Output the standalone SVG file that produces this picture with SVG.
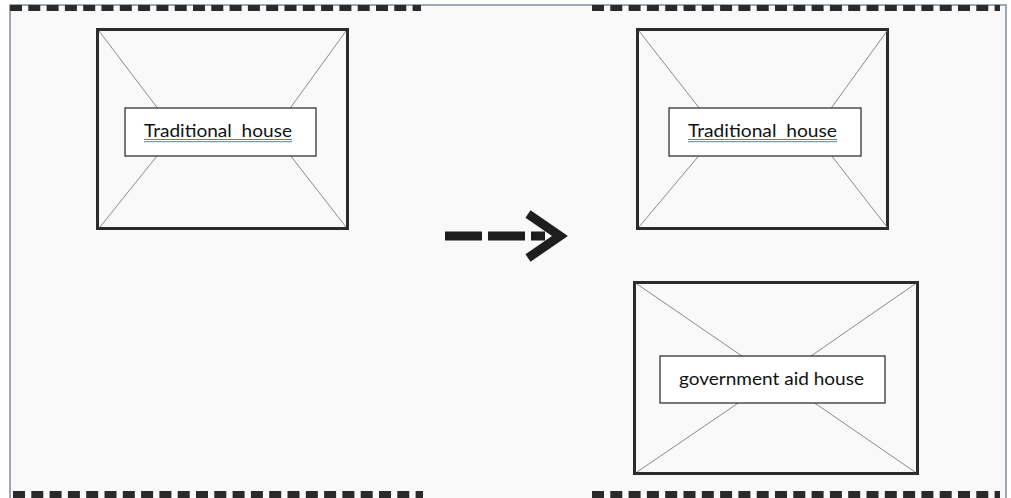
<svg xmlns="http://www.w3.org/2000/svg" width="1011" height="498" viewBox="0 0 1011 498">
<style>
.house{fill:none;stroke:#2b2b2b;stroke-width:3}
.diag{stroke:#8a8a8a;stroke-width:1}
.label{fill:#ffffff;stroke:#222;stroke-width:1.2}
.txt{font-family:Lato,"Liberation Sans",Arial,sans-serif;font-size:18px;fill:#111;white-space:pre}
.ul{stroke:#4a7fd4;stroke-width:1}
.dash{stroke:#2a2a2a;fill:none;stroke-dasharray:12 6.3}
</style>
<rect x="0" y="0" width="1011" height="498" fill="#ffffff"/>
<rect x="10" y="5" width="996" height="496" fill="#f9f9f9" stroke="#7f8c9c" stroke-width="1.5"/>
<g id="frame-dashes">
<line class="dash" x1="10" y1="8" x2="421" y2="8" stroke-width="6"/>
<line class="dash" x1="592" y1="8" x2="1000" y2="8" stroke-width="6"/>
<line class="dash" x1="13" y1="494.5" x2="423" y2="494.5" stroke-width="7"/>
<line class="dash" x1="592" y1="494.5" x2="1000" y2="494.5" stroke-width="7"/>
</g>
<g id="house-left">
<rect class="house" x="97.5" y="29.5" width="250" height="199"/>
<line class="diag" x1="99" y1="31" x2="165" y2="118"/>
<line class="diag" x1="100" y1="227" x2="165" y2="146"/>
<line class="diag" x1="346" y1="31" x2="283" y2="118"/>
<line class="diag" x1="346" y1="227" x2="283" y2="146"/>
<rect class="label" x="125" y="108" width="191" height="48"/>
<text class="txt" x="144" y="137" textLength="148" lengthAdjust="spacingAndGlyphs" xml:space="preserve">Traditional  house</text>
<line class="ul" x1="144" y1="139.5" x2="292" y2="139.5"/>
<line class="ul" x1="144" y1="141.7" x2="292" y2="141.7"/>
</g>
<g id="house-right-top">
<rect class="house" x="637.5" y="29.5" width="250" height="199"/>
<line class="diag" x1="639" y1="31" x2="707" y2="118"/>
<line class="diag" x1="639" y1="227" x2="707" y2="146"/>
<line class="diag" x1="887" y1="31" x2="824" y2="118"/>
<line class="diag" x1="887" y1="227" x2="824" y2="146"/>
<rect class="label" x="669" y="108" width="192" height="48"/>
<text class="txt" x="688" y="137" textLength="149" lengthAdjust="spacingAndGlyphs" xml:space="preserve">Traditional  house</text>
<line class="ul" x1="688" y1="139.5" x2="837" y2="139.5"/>
<line class="ul" x1="688" y1="141.7" x2="837" y2="141.7"/>
</g>
<g id="house-government">
<rect class="house" x="634.5" y="282.5" width="283" height="191"/>
<line class="diag" x1="637" y1="284" x2="755" y2="365"/>
<line class="diag" x1="915" y1="284" x2="798" y2="365"/>
<line class="diag" x1="637" y1="472" x2="750" y2="395"/>
<line class="diag" x1="915" y1="472" x2="803" y2="395"/>
<rect class="label" x="660" y="356" width="225" height="47"/>
<text class="txt" x="679" y="385" textLength="185" lengthAdjust="spacingAndGlyphs">government aid house</text>
</g>
<g id="connectors">
<line x1="445" y1="236" x2="545" y2="236" stroke="#1e1e1e" stroke-width="9" stroke-dasharray="37 6"/>
<polyline points="528,214 560,236 528,258" fill="none" stroke="#1e1e1e" stroke-width="9"/>
</g>
</svg>
